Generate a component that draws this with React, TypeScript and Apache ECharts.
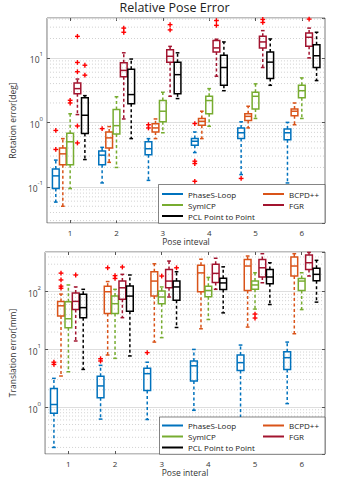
import React, { useEffect, useRef } from "react";
import * as echarts from "echarts";

const poseIntervals = ["1", "2", "3", "4", "5", "6"];
const methodNames = ["PhaseS-Loop", "BCPD++", "SymICP", "FGR", "PCL Point to Point"];
const methodColors = ["#0072BD", "#D95319", "#77AC30", "#A2142F", "#000000"];
const outlierColor = "#FF0000";

// Rotation error [deg], per pose interval: [lower whisker, Q1, median, Q3, upper whisker]
const rotPhaseSLoop = [
  [0.058, 0.094, 0.148, 0.19, 0.26],
  [0.115, 0.22, 0.31, 0.36, 0.41],
  [0.126, 0.316, 0.39, 0.5, 0.56],
  [0.34, 0.44, 0.51, 0.56, 0.71],
  [0.155, 0.56, 0.69, 0.82, 1.02],
  [0.115, 0.54, 0.69, 0.79, 1.0],
];
const rotBCPD = [
  [0.05, 0.22, 0.325, 0.4, 0.56],
  [0.24, 0.4, 0.575, 0.71, 0.86],
  [0.56, 0.71, 0.82, 0.95, 1.13],
  [0.56, 0.9, 1.04, 1.15, 1.49],
  [0.82, 1.07, 1.24, 1.36, 1.78],
  [0.92, 1.27, 1.49, 1.62, 2.0],
];
const rotSymICP = [
  [0.094, 0.22, 0.5, 0.68, 1.36],
  [0.2, 0.66, 0.89, 1.58, 2.5],
  [0.69, 1.02, 1.49, 2.18, 2.93],
  [0.87, 1.36, 2.18, 2.54, 3.34],
  [1.15, 1.62, 2.54, 2.93, 3.96],
  [1.15, 2.4, 3.1, 3.76, 4.9],
];
const rotFGR = [
  [1.32, 2.77, 3.34, 4.1, 4.7],
  [1.13, 5.1, 6.4, 8.4, 12],
  [2.54, 8.6, 10.6, 13.4, 15.1],
  [5.2, 12.4, 14.3, 18.7, 19.5],
  [7.1, 14.3, 17.7, 21.6, 26.5],
  [10, 15.1, 20.9, 24.4, 29],
];
const rotPCL = [
  [0.265, 0.67, 1.29, 2.4, 2.6],
  [0.56, 1.94, 2.7, 6.7, 9.6],
  [2.34, 2.77, 5.5, 8.6, 12],
  [3.1, 3.76, 7.1, 11, 17.7],
  [3.76, 4.8, 8.6, 12.4, 19.7],
  [4.45, 7.1, 10.8, 16, 25],
];
// Rotation outliers: [pose interval index, value]
const rotPhaseSLoopOut = [[0, 0.75], [0, 0.38], [1, 0.8], [2, 0.92], [2, 0.82], [3, 0.96], [3, 0.25], [3, 0.23], [3, 0.122], [4, 0.135]];
const rotBCPDOut: number[][] = [];
const rotSymICPOut = [[0, 2.0], [0, 2.2]];
const rotFGROut = [[0, 21.6], [0, 8.5], [0, 6.1], [0, 0.88], [0, 0.48], [1, 29], [1, 25], [2, 32.8], [2, 27.2], [3, 38], [3, 32], [4, 39.5], [4, 35.5], [5, 40]];
const rotPCLOut = [[0, 7.7], [0, 5.4]];

// Translation error [mm], per pose interval: [lower whisker, Q1, median, Q3, upper whisker]
const transPhaseSLoop = [
  [0.2, 0.78, 1.11, 2.1, 3.15],
  [0.62, 1.45, 2.33, 3.42, 5.3],
  [0.61, 1.95, 3.8, 4.7, 6.0],
  [0.88, 2.83, 5.2, 6.3, 10],
  [0.45, 4.3, 5.9, 8, 11.9],
  [1.15, 4.5, 7.2, 9.1, 13.4],
];
const transBCPD = [
  [3.46, 38, 57, 68, 91],
  [8, 42, 100, 125, 150],
  [13.4, 84, 153, 222, 305],
  [22.8, 100, 212, 287, 366],
  [24.4, 105, 279, 363, 416],
  [18.7, 187, 279, 400, 456],
];
const transSymICP = [
  [4.1, 23.8, 34, 67, 131],
  [7, 42, 62, 84, 110],
  [16, 62, 81, 103, 121],
  [33, 82, 105, 125, 177],
  [50, 110, 131, 153, 213],
  [49, 105, 153, 170, 213],
];
const transFGR = [
  [14, 49, 68, 95, 121],
  [35.5, 74, 117, 153, 200],
  [81, 117, 153, 243, 340],
  [110, 145, 208, 300, 380],
  [143, 180, 260, 363, 456],
  [187, 243, 318, 432, 480],
];
const transPCL = [
  [4.5, 35.5, 53, 90, 110],
  [7.7, 46, 84, 126, 195],
  [24, 71, 121, 153, 222],
  [43, 109, 142, 172, 270],
  [60, 138, 180, 243, 318],
  [66, 155, 200, 255, 350],
];
// Translation outliers: [pose interval index, value]
const transPhaseSLoopOut = [[0, 5.5], [0, 6.0], [1, 6.3], [1, 6.9], [2, 8.8]];
const transBCPDOut = [[0, 210], [0, 160], [0, 125], [0, 115], [1, 260]];
const transSymICPOut = [[1, 170], [1, 190], [2, 187], [4, 41], [4, 35]];
const transFGROut = [[0, 195], [1, 268]];
const transPCLOut = [[2, 260]];

// Axis tick values
const rotMinorGrid = [0.03, 0.04, 0.05, 0.06, 0.07, 0.08, 0.09, 0.2, 0.3, 0.4, 0.5, 0.6, 0.7, 0.8, 0.9, 2, 3, 4, 5, 6, 7, 8, 9, 20, 30, 40];
const transMinorGrid = [0.2, 0.3, 0.4, 0.5, 0.6, 0.7, 0.8, 0.9, 2, 3, 4, 5, 6, 7, 8, 9, 20, 30, 40, 50, 60, 70, 80, 90, 200, 300, 400];

const FONT = "Open Sans";
const OFFSETS = [-0.31, -0.158, 0, 0.157, 0.318];
const BOX_W = 0.145;

const makeBoxRender = (mi: number) => (params: any, api: any) => {
  const g = api.value(0);
  const band = api.size([1, 0])[0];
  const cx = api.coord([g, api.value(3)])[0] + OFFSETS[mi] * band;
  const y = (k: number) => api.coord([g, api.value(k)])[1];
  const yLo = y(1), yQ1 = y(2), yMed = y(3), yQ3 = y(4), yHi = y(5);
  const w = band * BOX_W;
  const cap = w * 0.55;
  const color = methodColors[mi];
  const solid = { stroke: color, lineWidth: 1.5, fill: "none" };
  const dashed = { stroke: color, lineWidth: 1.5, lineDash: [3, 2.5], fill: "none" };
  return {
    type: "group",
    children: [
      { type: "line", shape: { x1: cx, y1: yQ3, x2: cx, y2: yHi }, style: dashed },
      { type: "line", shape: { x1: cx, y1: yQ1, x2: cx, y2: yLo }, style: dashed },
      { type: "line", shape: { x1: cx - cap / 2, y1: yHi, x2: cx + cap / 2, y2: yHi }, style: solid },
      { type: "line", shape: { x1: cx - cap / 2, y1: yLo, x2: cx + cap / 2, y2: yLo }, style: solid },
      { type: "rect", shape: { x: cx - w / 2, y: yQ3, width: w, height: yQ1 - yQ3 }, style: solid },
      { type: "line", shape: { x1: cx - w / 2, y1: yMed, x2: cx + w / 2, y2: yMed }, style: solid },
    ],
  };
};

const outlierRender = (params: any, api: any) => {
  const g = api.value(0);
  const m = api.value(2);
  const band = api.size([1, 0])[0];
  const p = api.coord([g, api.value(1)]);
  const cx = p[0] + OFFSETS[m] * band;
  const cy = p[1];
  const r = 2.4;
  const st = { stroke: outlierColor, lineWidth: 1.4, fill: "none" };
  return {
    type: "group",
    children: [
      { type: "line", shape: { x1: cx - r, y1: cy, x2: cx + r, y2: cy }, style: st },
      { type: "line", shape: { x1: cx, y1: cy - r, x2: cx, y2: cy + r }, style: st },
    ],
  };
};

const gridLineRender = (params: any, api: any) => {
  const cs = params.coordSys;
  const yy = api.coord([0, api.value(1)])[1];
  return {
    type: "line",
    shape: { x1: cs.x, y1: yy, x2: cs.x + cs.width, y2: yy },
    style: { stroke: "#bdbdbd", lineWidth: 0.7, lineDash: [1, 2], fill: "none" },
  };
};

const logLabel = (v: number) => {
  const l = Math.log10(v);
  const e = Math.round(l);
  if (Math.abs(l - e) > 1e-6) return "";
  return `{b|10}{s|${e}}`;
};

const yLabelRich = {
  b: { fontSize: 8.5, fontFamily: FONT, color: "#404040", lineHeight: 13, verticalAlign: "bottom" },
  s: { fontSize: 6, fontFamily: FONT, color: "#404040", lineHeight: 13, verticalAlign: "top" },
};

function buildPanel(
  gi: number,
  boxes: number[][][],
  outs: number[][][],
  minor: number[]
) {
  const series: any[] = [];
  series.push({
    type: "custom",
    name: "minor-grid-" + gi,
    xAxisIndex: gi * 2,
    yAxisIndex: gi * 2,
    renderItem: gridLineRender,
    data: minor.map((v) => [0, v]),
    encode: { x: 0, y: 1 },
    silent: true,
    z: 1,
  });
  boxes.forEach((arr, mi) => {
    series.push({
      type: "custom",
      name: methodNames[mi],
      xAxisIndex: gi * 2,
      yAxisIndex: gi * 2,
      itemStyle: { color: methodColors[mi] },
      renderItem: makeBoxRender(mi),
      data: arr.map((q, g) => [g, ...q]),
      encode: { x: 0, y: [1, 2, 3, 4, 5] },
      z: 2,
    });
  });
  const outData: number[][] = [];
  outs.forEach((arr, mi) => arr.forEach((o) => outData.push([o[0], o[1], mi])));
  series.push({
    type: "custom",
    name: "outliers-" + gi,
    xAxisIndex: gi * 2,
    yAxisIndex: gi * 2,
    renderItem: outlierRender,
    data: outData,
    encode: { x: 0, y: 1 },
    z: 2,
  });
  return series;
}

function xAxes(gi: number, name: string, labelMargin: number, nameGap: number) {
  return [
    {
      type: "category",
      gridIndex: gi,
      data: poseIntervals,
      position: "bottom",
      axisLine: { show: false },
      axisTick: { show: true, inside: true, alignWithLabel: true, length: 3, lineStyle: { color: "#555" } },
      axisLabel: { fontSize: 8, fontFamily: FONT, color: "#333", margin: labelMargin },
      splitLine: { show: false },
      name,
      nameLocation: "middle",
      nameGap,
      nameTextStyle: { fontSize: 8.5, fontFamily: FONT, color: "#333" },
    },
    {
      type: "category",
      gridIndex: gi,
      data: poseIntervals,
      position: "top",
      axisLine: { show: false },
      axisTick: { show: true, inside: true, alignWithLabel: true, length: 3, lineStyle: { color: "#555" } },
      axisLabel: { show: false },
      splitLine: { show: false },
    },
  ];
}

function yAxes(gi: number, min: number, max: number, name: string, nameGap: number) {
  return [
    {
      type: "log",
      logBase: 10,
      gridIndex: gi,
      min,
      max,
      position: "left",
      axisLine: { show: false },
      axisTick: { show: true, inside: true, length: 3, lineStyle: { color: "#555" } },
      axisLabel: { formatter: logLabel, rich: yLabelRich, margin: 4, showMinLabel: false, showMaxLabel: false },
      splitLine: { show: true, lineStyle: { color: "#dedede", width: 1 } },
      name,
      nameLocation: "middle",
      nameGap,
      nameTextStyle: { fontSize: 8.5, fontFamily: FONT, color: "#333" },
    },
    {
      type: "log",
      logBase: 10,
      gridIndex: gi,
      min,
      max,
      position: "right",
      axisLine: { show: false },
      axisTick: { show: true, inside: true, length: 3, lineStyle: { color: "#555" } },
      axisLabel: { show: false },
      splitLine: { show: false },
    },
  ];
}

function legends(top: number) {
  const common = {
    orient: "vertical",
    top,
    itemGap: 1,
    itemWidth: 21,
    itemHeight: 2,
    icon: "rect",
    padding: 0,
    selectedMode: false,
    z: 6,
    textStyle: { fontSize: 8, fontFamily: FONT, color: "#222", lineHeight: 10 },
  };
  return [
    { ...common, left: 162, data: [methodNames[0], methodNames[2], methodNames[4]] },
    { ...common, left: 263, data: [methodNames[1], methodNames[3]] },
  ];
}

export default function App() {
  const ref = useRef<HTMLDivElement>(null);
  useEffect(() => {
    if (!ref.current) return;
    const chart = echarts.init(ref.current, undefined, { renderer: "svg" });
    const option: any = {
      animation: false,
      backgroundColor: "#ffffff",
      title: {
        text: "Relative Pose Error",
        left: "center",
        top: 1,
        padding: 0,
        textStyle: { fontSize: 12.5, fontWeight: "normal", fontFamily: FONT, color: "#222" },
      },
      grid: [
        { left: 32, top: 18, width: 293, height: 205, show: true, borderColor: "#595959", borderWidth: 0.8, backgroundColor: "#fff" },
        { left: 32, top: 252, width: 293, height: 202, show: true, borderColor: "#595959", borderWidth: 0.8, backgroundColor: "#fff" },
      ],
      xAxis: [...xAxes(0, "Pose inteval", 5, 13), ...xAxes(1, "Pose interal", 5, 12)],
      yAxis: [
        ...yAxes(0, 0.0275, 41.6, "Rotation error[deg]", 18),
        ...yAxes(1, 0.154, 488, "Translation error[mm]", 18),
      ],
      legend: [...legends(189), ...legends(420.5)],
      graphic: [
        { type: "rect", z: 5, shape: { x: 158.5, y: 184.5, width: 166.5, height: 38.8 }, style: { fill: "#fff", stroke: "#333", lineWidth: 0.6 } },
        { type: "rect", z: 5, shape: { x: 159.5, y: 417, width: 165.5, height: 37.3 }, style: { fill: "#fff", stroke: "#333", lineWidth: 0.6 } },
      ],
      series: [
        ...buildPanel(0, [rotPhaseSLoop, rotBCPD, rotSymICP, rotFGR, rotPCL], [rotPhaseSLoopOut, rotBCPDOut, rotSymICPOut, rotFGROut, rotPCLOut], rotMinorGrid),
        ...buildPanel(1, [transPhaseSLoop, transBCPD, transSymICP, transFGR, transPCL], [transPhaseSLoopOut, transBCPDOut, transSymICPOut, transFGROut, transPCLOut], transMinorGrid),
      ],
    };
    chart.setOption(option);
    return () => chart.dispose();
  }, []);
  return <div ref={ref} style={{ position: "fixed", left: 0, top: 0, width: 349, height: 478 }} />;
}
